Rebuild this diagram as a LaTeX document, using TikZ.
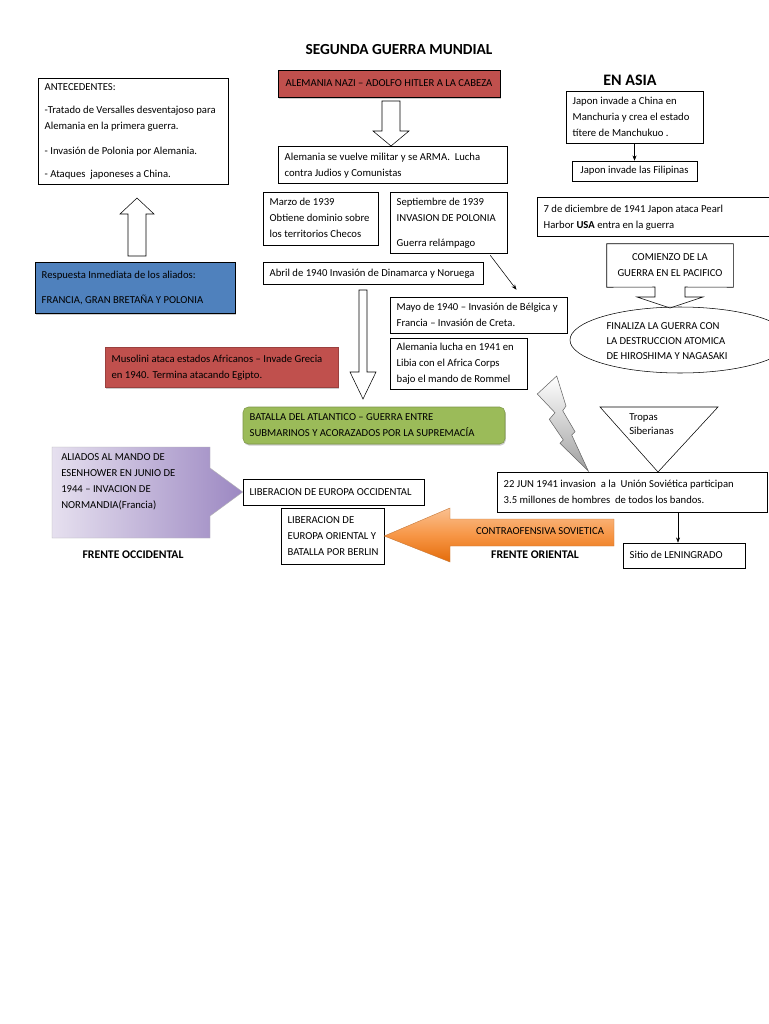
\documentclass[tikz,border=0pt]{standalone}
\usepackage{fontspec}
\setmainfont{Carlito}
\usepackage{tikz}
\usetikzlibrary{positioning, shapes.geometric, shadows, calc, arrows.meta}

\definecolor{rojo}{HTML}{C0504D}
\definecolor{azul}{HTML}{4F81BD}
\definecolor{verde}{HTML}{9BBB59}
\definecolor{naranja}{HTML}{F79646}
\definecolor{naranjaclaro}{HTML}{FAC090}
\definecolor{naranjaoscuro}{HTML}{E46C0A}
\definecolor{lilaclaro}{HTML}{E6E0EF}
\definecolor{lilaoscuro}{HTML}{9C88C2}
\newcommand\letra{\fontsize{8}{12}\selectfont}
\newcommand\lineas[1]{\begin{tabular}{@{}l@{}}#1\end{tabular}}

\begin{document}
\begin{tikzpicture}[
          x=0.75pt, y=-0.75pt,
          caja/.style={draw, thin, inner xsep=5pt, inner ysep=1pt, align=flush left, font=\letra},
          sombra/.style={drop shadow={shadow xshift=0.6pt, shadow yshift=-1.2pt, opacity=0.4}},
          hueca/.style={draw, thin, fill=white},
          flecha/.style={-{Stealth[length=4pt, width=3pt]}, thin},
          rotulo/.style={font=\fontsize{8.8}{10}\selectfont\bfseries}
        ]
        \useasboundingbox (0,0) rectangle (768,1024);
        \fill[white] (0,0) rectangle (768,1024);

        \node[font=\fontsize{11.5}{13}\selectfont\bfseries] (titulo) at (399,50) {SEGUNDA GUERRA MUNDIAL};

        % columna izquierda
        \node[caja, text width=132.5pt, minimum height=79.5pt] (antecedentes) at (133,131)
          {\lineas{ANTECEDENTES:\\[5.5pt] -Tratado de Versalles desventajoso para\\ Alemania en la primera guerra.\\[6.5pt] - Invasión de Polonia por Alemania.\\[5.5pt] - Ataques\ \ japoneses a China.}};
        \draw[hueca] (128,256) -- (128,214) -- (120,214) -- (137,198) -- (154,214) -- (146,214) -- (146,256) -- cycle;
        \node[caja, sombra, fill=azul, text width=140pt, minimum height=38.25pt] (respuesta) at (135,287.5)
          {\lineas{Respuesta Inmediata de los aliados:\\[6.75pt] FRANCIA, GRAN BRETAÑA Y POLONIA}};
        \node[caja, sombra, fill=rojo, draw=rojo!80!black, text width=164.75pt, minimum height=30pt] (musolini) at (221.5,367)
          {\lineas{Musolini ataca estados Africanos – Invade Grecia\\ en 1940. Termina atacando Egipto.}};

        % alemania
        \node[caja, sombra, fill=rojo, align=center, minimum width=166.5pt, minimum height=20.25pt] (nazi) at (389,83.5)
          {ALEMANIA NAZI – ADOLFO HITLER A LA CABEZA};
        \draw[hueca] (382,101) -- (400,101) -- (400,131) -- (409,131) -- (391,146) -- (373,131) -- (382,131) -- cycle;
        \node[caja, text width=161.75pt, minimum height=27.75pt] (arma) at (392.5,165)
          {\lineas{Alemania se vuelve militar y se ARMA.\ \ Lucha\\ contra Judios y Comunistas}};
        \node[caja, text width=76.25pt, minimum height=39.75pt] (marzo) at (320.5,218.5)
          {\lineas{Marzo de 1939\\ Obtiene dominio sobre\\ los territorios Checos}};
        \node[caja, text width=77.75pt, minimum height=45.75pt] (septiembre) at (448.5,222.5)
          {\lineas{Septiembre de 1939\\ INVASION DE POLONIA\\[7pt] Guerra relámpago}};
        \node[caja, text width=155pt, minimum height=16.5pt] (abril) at (373,273)
          {\lineas{Abril de 1940 Invasión de Dinamarca y Noruega}};
        \node[caja, text width=122.75pt, minimum height=27pt] (mayo) at (478.5,315)
          {\lineas{Mayo de 1940 – Invasión de Bélgica y\\ Francia – Invasión de Creta.}};
        \node[caja, text width=92.75pt, minimum height=36.75pt] (libia) at (458.5,363.5)
          {\lineas{Alemania lucha en 1941 en\\ Libia con el Africa Corps\\ bajo el mando de Rommel}};
        \draw[flecha] ($(septiembre.south east)+(-17,2)$) -- ($(mayo.north)+(38,-7)$);
        \draw[hueca] (359,290) -- (367,290) -- (367,372) -- (376,372) -- (363,399) -- (350,372) -- (359,372) -- cycle;
        \node[caja, sombra, fill=verde, draw=verde!80!black, rounded corners=4pt, text width=186.5pt, minimum height=27.75pt] (atlantico) at (374,425.5)
          {\lineas{BATALLA DEL ATLANTICO – GUERRA ENTRE\\ SUBMARINOS Y ACORAZADOS POR LA SUPREMACÍA}};

        % asia
        \node[font=\fontsize{12}{14}\selectfont\bfseries] (asia) at (630,80) {EN ASIA};
        \node[caja, text width=92.75pt, minimum height=39pt] (china) at (634.5,117)
          {\lineas{Japon invade a China en\\ Manchuria y crea el estado\\ títere de Manchukuo .}};
        \node[caja, align=center, minimum width=93.75pt, minimum height=15pt] (filipinas) at (634.5,171)
          {Japon invade las Filipinas};
        \draw[flecha] (china.south) -- (filipinas.north);
        \node[caja, text width=168.5pt, minimum height=29.25pt] (pearl) at (656,217)
          {\lineas{7 de diciembre de 1941 Japon ataca Pearl\\ Harbor \textbf{USA} entra en la guerra}};
        \node[font=\letra, align=center, minimum width=94.5pt, minimum height=32.25pt] (comienzo) at (670,265.5)
          {COMIENZO DE LA\\ GUERRA EN EL PACIFICO};
        \draw[thin] (comienzo.south west) -- (comienzo.north west) -- (comienzo.north east) -- (comienzo.south east)
          -- (685,287) -- (685,297) -- (703,297) -- (670,308) -- (637,297) -- (655,297) -- (655,287) -- cycle;
        \node[draw, thin, ellipse, minimum width=165pt, minimum height=49.5pt] (hiroshima) at (680,340) {};
        \node[align=left, font=\fontsize{8}{11}\selectfont, inner sep=0pt] (hirotexto) at (667,341)
          {FINALIZA LA GUERRA CON\\ LA DESTRUCCION ATOMICA\\ DE HIROSHIMA Y NAGASAKI};

        % frente oriental
        \node[caja, text width=192.5pt, minimum height=30pt] (junio) at (632,492)
          {\lineas{22 JUN 1941 invasion\ \ a la\ \ Unión Soviética participan\\ 3.5 millones de hombres\ \ de todos los bandos.}};
        \shade[top color=white, bottom color=gray!75, draw=gray!80!black, thin]
          (537.3,394) -- (556.7,376) -- (566,406) -- (562.7,410.7) -- (575,431.7) -- (571.7,435) -- (588.3,471)
          -- (560,443.3) -- (563.3,440) -- (549.3,419.3) -- (555,412.7) -- cycle;
        \draw[thin] (600,407) -- (718,407) -- (658,472) -- cycle;
        \node[font=\fontsize{8}{10.5}\selectfont, align=left, anchor=north west, inner sep=0pt] (tropas) at (629,413)
          {Tropas\\ Siberianas};
        \node[caja, text width=81.5pt, minimum height=18.75pt] (leningrado) at (684,555.5)
          {\lineas{Sitio de LENINGRADO}};
        \draw[flecha] ([xshift=-4.5pt]leningrado.north |- junio.south) -- ([xshift=-4.5pt]leningrado.north);
        \node[caja, text width=67.25pt, minimum height=42pt] (oriental) at (332.5,536)
          {\lineas{LIBERACION DE\\ EUROPA ORIENTAL Y\\ BATALLA POR BERLIN}};
        \shade[top color=naranjaclaro, bottom color=naranjaoscuro, middle color=naranja, draw=naranja!80!black, line width=0.3pt]
          (614,519) -- (450,519) -- (450,508) -- (oriental.east) -- (450,562) -- (450,546) -- (614,546) -- cycle;
        \node[font=\letra] (contra) at (540,531) {CONTRAOFENSIVA SOVIETICA};
        \node[rotulo] (frenteori) at (535,555) {FRENTE ORIENTAL};

        % frente occidental
        \node[caja, text width=125.75pt, minimum height=19.5pt] (occidental) at (333.5,492)
          {\lineas{LIBERACION DE EUROPA OCCIDENTAL}};
        \shade[left color=lilaclaro, right color=lilaoscuro, draw=gray!60, line width=0.3pt]
          (52,447) -- (210,447) -- (210,468) -- (occidental.west) -- (210,516) -- (210,538) -- (52,538) -- cycle;
        \node[font=\letra, align=left, anchor=north west, inner sep=0pt] (aliados) at (61,453)
          {ALIADOS AL MANDO DE\\ ESENHOWER EN JUNIO DE\\ 1944 – INVACION DE\\ NORMANDIA(Francia)};
        \node[rotulo] (frenteocc) at (133,555) {FRENTE OCCIDENTAL};
      \end{tikzpicture}
\end{document}
